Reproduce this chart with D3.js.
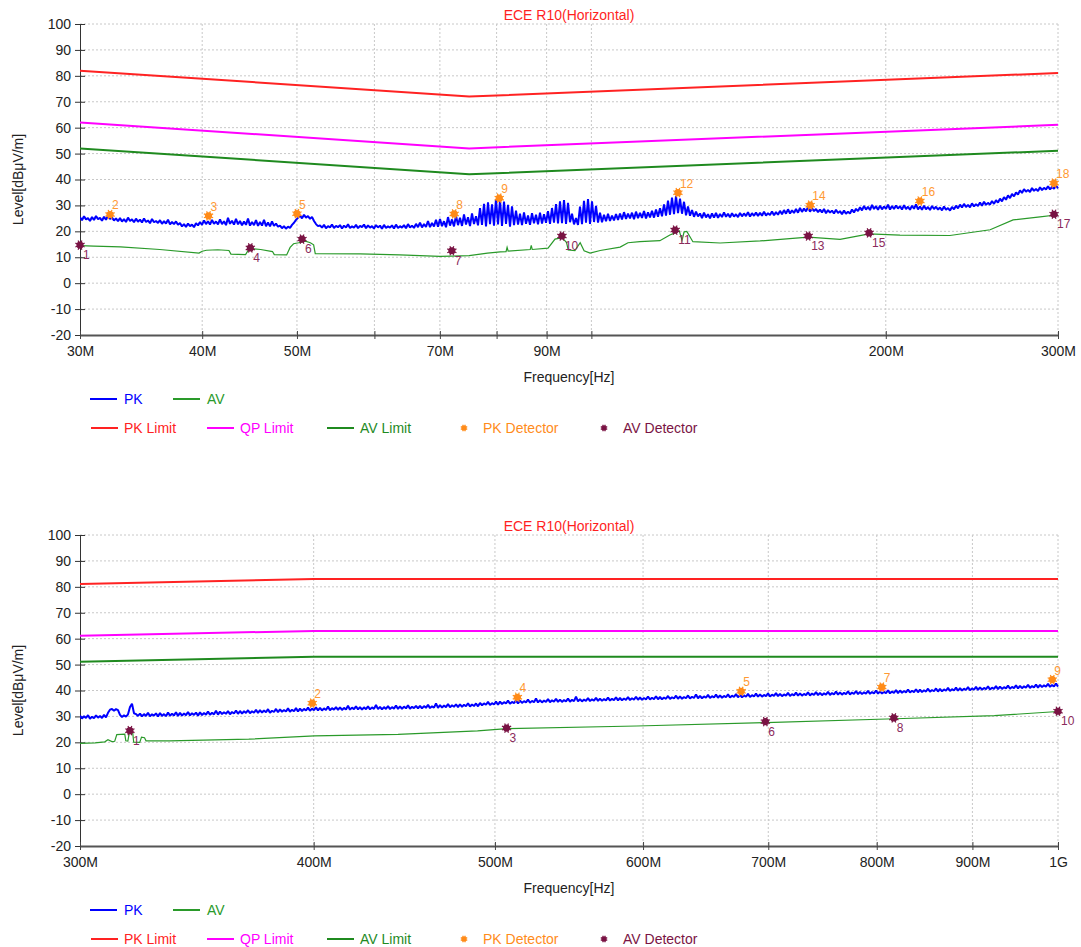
<!DOCTYPE html>
<html><head><meta charset="utf-8">
<script src="https://cdnjs.cloudflare.com/ajax/libs/d3/7.8.5/d3.min.js"></script>
<style>
body{margin:0;background:#fff}
svg{display:block}
text{font-family:"Liberation Sans",Arial,Helvetica,sans-serif}
</style>
</head><body>
<svg id="c" width="1081" height="947"></svg>
<script>
// ---------------- DATA ----------------
const chartTitle = "ECE R10(Horizontal)";
const yLabel = "Level[dBμV/m]";
const xLabel = "Frequency[Hz]";
const yTicks = [-20,-10,0,10,20,30,40,50,60,70,80,90,100];

const topTickFreqs  = [30,40,50,60,70,80,90,100,200,300];
const topTickLabels = ["30M","40M","50M","","70M","","90M","","200M","300M"];
const botTickFreqs  = [300,400,500,600,700,800,900,1000];
const botTickLabels = ["300M","400M","500M","600M","700M","800M","900M","1G"];

// limit breakpoints (MHz, dBuV/m)
const topLimitFreqs = [30,75,300];
const topPkLimit = [82,72,81.1];
const topQpLimit = [62,52,61.1];
const topAvLimit = [52,42,51.1];
const botLimitFreqs = [300,400,1000];
const botPkLimit = [81.1,83,83];
const botQpLimit = [61.1,63,63];
const botAvLimit = [51.1,53,53];

// PK sweep: values at log-spaced sweep points between start and stop
const topSweep = [30,300];
const topPkValues = [
25.4,24.3,25.8,24.6,25.1,24.0,25.5,24.4,25.9,24.7,
25.2,24.1,25.6,24.5,26.0,24.8,25.3,24.2,25.0,23.9,
25.1,23.8,24.7,23.6,25.3,24.0,24.6,23.5,24.9,23.7,
24.5,23.4,25.0,23.6,24.2,23.1,24.8,23.5,24.0,23.2,
24.3,22.9,23.9,23.0,24.5,22.7,23.6,22.8,23.8,22.5,
23.2,21.9,22.8,21.7,23.0,22.0,22.6,21.6,23.1,22.3,
23.6,22.5,24.2,22.8,23.9,22.6,24.4,22.9,23.8,22.7,
24.6,22.8,23.9,22.4,25.2,22.9,24.1,22.6,24.8,22.7,
24.0,22.3,23.8,22.5,24.9,22.2,23.6,22.4,24.3,22.1,
23.6,22.2,24.4,22.0,23.4,21.9,23.8,22.1,23.0,21.8,
22.2,21.2,22.0,21.0,21.8,21.3,22.5,23.3,24.4,25.2,
26.2,25.0,26.4,25.3,25.9,24.8,25.6,24.0,22.8,22.0,
22.3,21.4,22.5,21.2,22.0,21.5,22.6,21.3,22.1,21.6,
22.4,21.1,22.2,21.5,22.7,21.3,21.9,21.4,22.5,21.2,
22.1,21.6,22.6,21.2,22.3,21.4,22.0,21.1,22.4,21.5,
22.2,21.0,22.5,21.3,21.9,21.4,22.3,21.1,22.6,21.3,
22.0,21.4,22.4,21.2,22.8,21.5,22.2,21.3,22.9,21.6,
23.4,21.5,22.8,21.7,24.0,21.6,23.2,21.9,24.5,21.8,
24.8,22.0,23.9,21.6,25.5,22.2,24.6,21.9,26.0,22.4,
25.2,22.1,26.5,22.6,25.4,22.0,26.9,22.8,25.8,22.3,
29.0,22.5,30.6,21.9,31.2,22.8,30.4,22.2,32.4,22.7,
32.0,22.1,31.5,22.9,30.2,21.8,29.6,22.4,28.0,22.6,
26.8,22.4,27.3,22.9,26.1,22.5,27.0,23.1,26.4,22.7,
27.2,23.0,26.6,23.3,27.8,22.9,29.0,23.4,30.5,23.1,
31.6,23.2,32.1,22.9,31.0,23.5,26.8,22.7,25.1,22.5,
29.5,22.8,31.8,23.3,32.4,22.9,31.6,23.6,29.8,23.4,
27.2,23.5,26.4,23.9,26.8,24.0,26.1,24.2,26.7,24.4,
26.9,24.6,27.4,24.8,26.8,25.0,27.2,24.7,27.6,25.1,
27.1,25.2,27.8,25.0,27.3,25.4,27.9,25.3,28.4,25.6,
28.9,25.8,30.4,26.1,31.8,26.4,33.0,26.6,33.6,27.0,
32.6,26.8,31.4,26.2,29.6,26.0,28.2,25.6,27.6,25.8,
26.9,25.1,27.2,25.4,26.6,25.0,26.9,25.3,27.1,25.2,
26.7,25.5,27.3,25.6,26.8,25.4,27.0,25.7,26.6,25.5,
27.1,25.8,26.9,25.9,27.4,25.7,27.0,26.0,27.3,25.9,
27.2,26.0,27.6,26.1,27.0,26.3,27.7,26.2,27.4,26.4,
27.9,26.6,28.2,26.8,28.5,26.9,28.1,27.1,28.6,27.2,
29.0,27.5,28.8,27.7,29.3,27.6,28.9,27.8,28.6,27.4,
28.4,27.3,28.6,27.0,28.2,27.2,28.0,26.9,28.3,27.1,
27.8,26.6,28.0,26.8,27.6,26.9,28.4,27.3,28.7,27.8,
29.3,28.1,29.8,28.4,29.5,28.2,30.2,28.6,29.7,28.3,
29.9,28.5,29.6,28.7,30.3,28.4,29.8,28.6,30.0,28.8,
29.7,28.4,30.1,28.6,29.5,28.3,29.9,28.7,30.4,28.5,
29.6,28.3,29.9,28.5,29.4,28.2,29.8,28.6,29.5,28.4,
29.2,28.1,29.6,28.3,29.0,28.0,29.4,28.5,29.9,28.9,
30.3,29.2,30.6,29.4,30.2,29.3,30.8,29.6,30.5,29.8,
31.1,29.9,31.4,30.2,31.0,30.3,31.7,30.6,32.0,31.1,
32.6,31.6,33.2,32.2,33.9,32.8,34.4,33.5,35.0,34.2,
35.8,34.8,36.3,35.3,36.0,35.2,36.7,35.6,36.4,35.5,
37.0,35.9,36.8,36.1,37.4,36.2,37.1,36.4,37.7,36.6
];
// AV trace [MHz, dBuV/m]
const topAv = [
[30.0,14.5],[31.0,14.3],[33.0,14.0],[36.2,13.0],[39.7,11.6],[40.0,12.3],[40.4,12.7],[41.5,12.9],[42.6,12.6],[42.8,11.2],
[44.3,11.0],[44.7,13.4],[45.9,13.0],[47.2,12.2],[47.4,11.0],[48.8,10.9],[49.2,13.8],[49.6,15.2],[50.2,15.6],[51.0,16.2],
[51.6,15.6],[52.0,14.8],[52.2,11.4],[58.0,11.3],[63.7,10.9],[70.0,10.3],[72.0,10.4],[75.0,10.6],[78.3,11.6],[80.7,12.1],
[81.8,12.2],[82.0,13.8],[82.2,12.4],[86.6,13.0],[86.8,14.6],[87.0,13.0],[90.3,13.5],[91.8,17.0],[93.3,17.6],[94.3,15.8],
[94.7,12.8],[96.2,12.6],[97.4,15.6],[98.3,12.5],[99.7,11.6],[102.1,12.6],[107.0,13.9],[109.0,15.6],[112.1,16.0],[117.5,16.4],
[120.3,18.6],[121.8,19.4],[123.0,20.2],[123.8,16.5],[124.4,19.8],[125.2,20.0],[127.0,16.0],[135.4,15.5],[148.8,16.3],[166.6,17.8],
[179.6,16.9],[192.3,19.0],[206.8,18.5],[232.6,18.4],[255.7,20.6],[269.9,24.4],[287.6,25.6],[300,26.4]
];
// detectors [no, MHz, dBuV/m]
const topPkDet = [[2,32.2,26.5],[3,40.6,26.0],[5,50.0,26.8],[8,72.4,26.7],[9,80.5,32.8],[12,122.6,34.9],[14,167.4,30.1],[16,216.7,31.7],[18,297.2,38.6]];
const topAvDet = [[1,30.0,14.7],[4,44.8,13.6],[6,50.6,17.0],[7,72.0,12.5],[10,93.3,18.2],[11,121.8,20.5],[13,166.6,18.2],[15,192.3,19.4],[17,297.2,26.6]];

const botSweep = [300,1000];
const botPkValues = [
30.3,29.2,30.1,29.4,30.5,29.1,29.9,29.3,30.4,29.5,
30.2,29.4,30.6,29.6,31.4,32.6,32.9,32.2,32.8,32.4,
30.6,29.8,30.4,29.9,30.8,33.6,34.9,31.2,30.9,30.2,
31.1,30.0,30.9,30.2,31.4,30.1,30.8,30.3,31.2,30.0,
31.3,30.2,30.9,30.1,31.5,30.3,31.0,30.4,31.6,30.2,
31.4,30.3,31.1,30.5,31.7,30.4,31.2,30.6,31.5,30.3,
31.6,30.5,31.3,30.7,31.9,30.6,31.4,30.8,32.2,30.7,
31.9,30.9,31.6,31.0,32.1,30.8,31.7,31.1,32.3,31.0,
32.1,31.1,32.0,31.3,32.4,31.2,32.0,31.4,32.6,31.3,
32.4,31.5,32.3,31.6,32.8,31.4,32.2,31.7,32.9,31.6,
32.7,31.8,32.5,31.9,33.1,31.8,32.6,32.0,33.2,31.9,
33.0,32.1,32.9,32.3,33.4,32.2,33.0,32.4,33.5,32.3,
33.3,32.3,33.1,32.5,33.8,32.4,33.2,32.6,33.6,32.5,
33.5,32.5,33.3,32.7,34.1,32.6,33.4,32.8,33.9,32.7,
33.6,32.6,33.5,32.8,33.9,32.7,33.5,32.9,34.4,32.8,
33.7,32.7,33.6,32.9,34.0,32.8,33.6,33.0,34.2,32.9,
33.9,32.9,33.8,33.1,34.3,33.0,33.7,33.2,34.1,33.1,
34.1,33.1,34.0,33.3,34.5,33.2,33.9,33.4,35.0,33.3,
34.4,33.4,34.2,33.6,34.8,33.5,34.3,33.7,34.7,33.6,
34.7,33.7,34.5,33.9,35.1,33.8,34.6,34.0,35.0,33.9,
35.2,34.3,35.0,34.5,35.6,34.4,35.1,34.6,35.7,34.5,
35.7,34.8,35.5,35.0,36.1,34.9,35.6,35.1,36.2,35.0,
36.1,35.2,35.9,35.4,36.5,35.3,36.0,35.5,36.9,35.4,
36.3,35.4,36.1,35.6,36.7,35.5,36.2,35.7,36.8,35.6,
36.5,35.6,36.3,35.8,36.9,35.7,36.4,35.9,37.6,35.8,
36.7,35.8,36.5,36.0,37.1,35.9,36.6,36.1,37.2,36.0,
36.9,36.0,36.7,36.2,37.3,36.1,36.8,36.3,37.4,36.2,
37.1,36.2,36.9,36.4,37.5,36.3,37.0,36.5,37.6,36.4,
37.3,36.4,37.1,36.6,37.7,36.5,37.2,36.7,37.8,36.6,
37.5,36.6,37.3,36.8,37.9,36.7,37.4,36.9,38.0,36.8,
37.7,36.8,37.5,37.0,38.1,36.9,37.6,37.1,38.5,37.0,
37.9,37.0,37.7,37.2,38.3,37.1,37.8,37.3,38.4,37.2,
38.1,37.2,37.9,37.4,38.5,37.3,38.0,37.5,38.6,37.4,
38.3,37.4,38.1,37.6,38.7,37.5,38.2,37.7,38.8,37.6,
38.5,37.6,38.3,37.8,38.9,37.7,38.4,37.9,39.0,37.8,
38.7,37.8,38.5,38.0,39.1,37.9,38.6,38.1,39.2,38.0,
38.9,38.0,38.7,38.2,39.3,38.1,38.8,38.3,39.4,38.2,
39.1,38.2,38.9,38.4,39.5,38.3,39.0,38.5,39.6,38.4,
39.3,38.4,39.1,38.6,39.7,38.5,39.2,38.7,39.8,38.6,
39.5,38.6,39.3,38.8,39.9,38.7,39.4,38.9,40.0,38.8,
39.7,38.8,39.5,39.0,40.1,38.9,39.6,39.1,40.2,39.0,
40.0,39.1,39.8,39.3,40.4,39.2,39.9,39.4,40.5,39.3,
40.3,39.4,40.1,39.6,40.7,39.5,40.2,39.7,40.8,39.6,
40.6,39.7,40.4,39.9,41.0,39.8,40.5,40.0,41.1,39.9,
40.9,40.0,40.7,40.2,41.3,40.1,40.8,40.3,41.4,40.2,
41.2,40.3,41.0,40.5,41.6,40.4,41.1,40.6,41.7,40.5,
41.5,40.6,41.3,40.8,41.9,40.7,41.4,40.9,42.0,40.8,
41.8,40.9,41.6,41.1,42.2,41.0,41.7,41.2,42.3,41.1,
42.2,41.3,42.0,41.5,42.6,41.4,42.1,41.6,42.7,41.5
];
const botAv = [
[300,19.6],[305.6,19.8],[309.3,20.2],[310.5,21.0],[312.0,20.3],[313.1,20.4],[313.9,23.0],[317.0,23.2],[317.4,20.6],[318.2,20.5],
[318.9,24.3],[320.1,23.8],[320.5,20.1],[322.9,20.0],[323.6,22.0],[324.8,21.8],[325.4,20.6],[334.9,20.6],[369.3,21.2],[400.4,22.5],
[443.8,23.1],[489.4,24.4],[507.5,25.3],[595.3,26.3],[697.9,27.6],[818.4,29.1],[924.7,30.3],[1000,31.9]
];
const botPkDet = [[2,399.3,35.1],[4,514,37.4],[5,677,39.7],[7,805,41.3],[9,993,44.2]];
const botAvDet = [[1,319,24.5],[3,507.2,25.5],[6,697.5,28.0],[8,817,29.4],[10,1000,32.0]];

const legendRow1 = ["PK","AV"];
const legendRow2 = ["PK Limit","QP Limit","AV Limit","PK Detector","AV Detector"];

// ---------------- STYLE ----------------
const C = {pk:"#0000ff", av:"#2a9a2a", pkLim:"#ff2222", qpLim:"#ff00ff", avLim:"#1f8a1f",
           pkDet:"#ff8c1a", avDet:"#7a1444", pkLbl:"#ff9933", avLbl:"#8b2a5c", txt:"#222", grid:"#c8c8c8"};

const svg = d3.select("#c");
const X0 = 80, X1 = 1058;

function star(g, x, y, color, r){
  const s = g.append("g").attr("transform",`translate(${x},${y})`);
  s.append("circle").attr("r", r*0.72).attr("fill", color);
  for(let k=0;k<8;k++){
    const a = k*Math.PI/4 + Math.PI/8;
    s.append("line").attr("x1",0).attr("y1",0)
      .attr("x2",Math.cos(a)*r).attr("y2",Math.sin(a)*r)
      .attr("stroke",color).attr("stroke-width",1.2);
  }
}

function drawChart(cfg){
  const top = cfg.top, bottom = cfg.top + 311;
  const g = svg.append("g");
  const x = d3.scaleLog().domain(cfg.domain).range([X0, X1]);
  const y = d3.scaleLinear().domain([-20,100]).range([bottom, top]);

  g.append("text").attr("x",(X0+X1)/2).attr("y",top-4).attr("text-anchor","middle")
    .attr("font-size",14).attr("fill","#ff1f1f").text(chartTitle);

  // grid
  g.append("g").selectAll("line").data(yTicks.filter(d=>d>-20)).join("line")
    .attr("x1",X0).attr("x2",X1).attr("y1",d=>y(d)).attr("y2",d=>y(d))
    .attr("stroke",C.grid).attr("stroke-width",1).attr("stroke-dasharray","2,2");
  g.append("g").selectAll("line").data(cfg.ticks.slice(1)).join("line")
    .attr("x1",d=>x(d)).attr("x2",d=>x(d)).attr("y1",top).attr("y2",bottom)
    .attr("stroke",C.grid).attr("stroke-width",1).attr("stroke-dasharray","2,2");

  // y axis
  const ya = d3.axisLeft(y).tickValues(yTicks).tickSize(0).tickPadding(9).tickFormat(d=>String(d));
  const yg = g.append("g").attr("transform",`translate(${X0},0)`).call(ya);
  yg.select(".domain").attr("stroke","#333");
  yg.selectAll("text").attr("font-size",14).attr("fill",C.txt).attr("font-family","Liberation Sans, Arial, sans-serif");
  yg.selectAll(".tick").append("line").attr("x1",-5).attr("x2",5).attr("stroke","#333");

  // x axis
  const xa = d3.axisBottom(x).tickValues(cfg.ticks).tickSize(0).tickPadding(11)
    .tickFormat((d,i)=>cfg.labels[i]);
  const xg = g.append("g").attr("transform",`translate(0,${bottom})`).call(xa);
  xg.select(".domain").attr("stroke","#555").attr("stroke-width",2);
  xg.selectAll("text").attr("font-size",14).attr("fill",C.txt).attr("font-family","Liberation Sans, Arial, sans-serif");
  xg.selectAll(".tick").append("line").attr("y1",-4).attr("y2",4).attr("stroke","#444");

  g.append("text").attr("x",(X0+X1)/2).attr("y",bottom+47).attr("text-anchor","middle")
    .attr("font-size",14).attr("fill",C.txt).text(xLabel);
  g.append("text").attr("transform",`translate(23,${(top+bottom)/2}) rotate(-90)`).attr("text-anchor","middle")
    .attr("font-size",14).attr("fill",C.txt).text(yLabel);

  const clip = "clip"+cfg.top;
  svg.append("defs").append("clipPath").attr("id",clip).append("rect")
    .attr("x",X0).attr("y",top-2).attr("width",X1-X0+1).attr("height",bottom-top+2);
  const p = g.append("g").attr("clip-path",`url(#${clip})`);

  const line = d3.line().x(d=>x(d[0])).y(d=>y(d[1]));
  const lim = (vals)=>cfg.limFreqs.map((f,i)=>[f,vals[i]]);
  p.append("path").attr("d",line(lim(cfg.pkLim))).attr("fill","none").attr("stroke",C.pkLim).attr("stroke-width",2);
  p.append("path").attr("d",line(lim(cfg.qpLim))).attr("fill","none").attr("stroke",C.qpLim).attr("stroke-width",2);
  p.append("path").attr("d",line(lim(cfg.avLim))).attr("fill","none").attr("stroke",C.avLim).attr("stroke-width",2);

  const n = cfg.pk.length, f0 = cfg.sweep[0], f1 = cfg.sweep[1];
  const pkPts = cfg.pk.map((v,i)=>[f0*Math.pow(f1/f0, i/(n-1)), v]);
  p.append("path").attr("d",line(pkPts)).attr("fill","none").attr("stroke",C.pk)
    .attr("stroke-width",2).attr("stroke-linejoin","bevel");
  p.append("path").attr("d",line(cfg.av)).attr("fill","none").attr("stroke",C.av).attr("stroke-width",1.2);

  cfg.pkDet.forEach(d=>{
    star(g, x(d[1]), y(d[2]), C.pkDet, 5);
    g.append("text").attr("x",x(d[1])+2).attr("y",y(d[2])-5).attr("font-size",12).attr("fill",C.pkLbl).text(d[0]);
  });
  cfg.avDet.forEach(d=>{
    star(g, x(d[1]), y(d[2]), C.avDet, 5);
    g.append("text").attr("x",x(d[1])+3).attr("y",y(d[2])+14).attr("font-size",12).attr("fill",C.avLbl).text(d[0]);
  });

  // legend
  const r1 = top + 375, r2 = top + 404;
  const L1 = [[90,C.pk],[173,C.av]];
  legendRow1.forEach((t,i)=>{
    g.append("line").attr("x1",L1[i][0]).attr("x2",L1[i][0]+27).attr("y1",r1).attr("y2",r1).attr("stroke",L1[i][1]).attr("stroke-width",2);
    g.append("text").attr("x",L1[i][0]+34).attr("y",r1+5).attr("font-size",14).attr("fill",L1[i][1]).text(t);
  });
  const L2 = [[91,C.pkLim,"l"],[207,C.qpLim,"l"],[327,C.avLim,"l"],[464,C.pkDet,"m"],[604,C.avDet,"m"]];
  legendRow2.forEach((t,i)=>{
    const [lx,col,kind] = L2[i];
    if(kind==="l"){
      g.append("line").attr("x1",lx).attr("x2",lx+27).attr("y1",r2).attr("y2",r2).attr("stroke",col).attr("stroke-width",2);
      g.append("text").attr("x",lx+33).attr("y",r2+5).attr("font-size",14).attr("fill",col).text(t);
    } else {
      star(g, lx, r2, col, 3.5);
      g.append("text").attr("x",lx+19).attr("y",r2+5).attr("font-size",14).attr("fill",col).text(t);
    }
  });
}

drawChart({top:24, domain:[30,300], ticks:topTickFreqs, labels:topTickLabels,
  limFreqs:topLimitFreqs, pkLim:topPkLimit, qpLim:topQpLimit, avLim:topAvLimit,
  sweep:topSweep, pk:topPkValues, av:topAv, pkDet:topPkDet, avDet:topAvDet});
drawChart({top:535, domain:[300,1000], ticks:botTickFreqs, labels:botTickLabels,
  limFreqs:botLimitFreqs, pkLim:botPkLimit, qpLim:botQpLimit, avLim:botAvLimit,
  sweep:botSweep, pk:botPkValues, av:botAv, pkDet:botPkDet, avDet:botAvDet});
</script>
</body></html>
